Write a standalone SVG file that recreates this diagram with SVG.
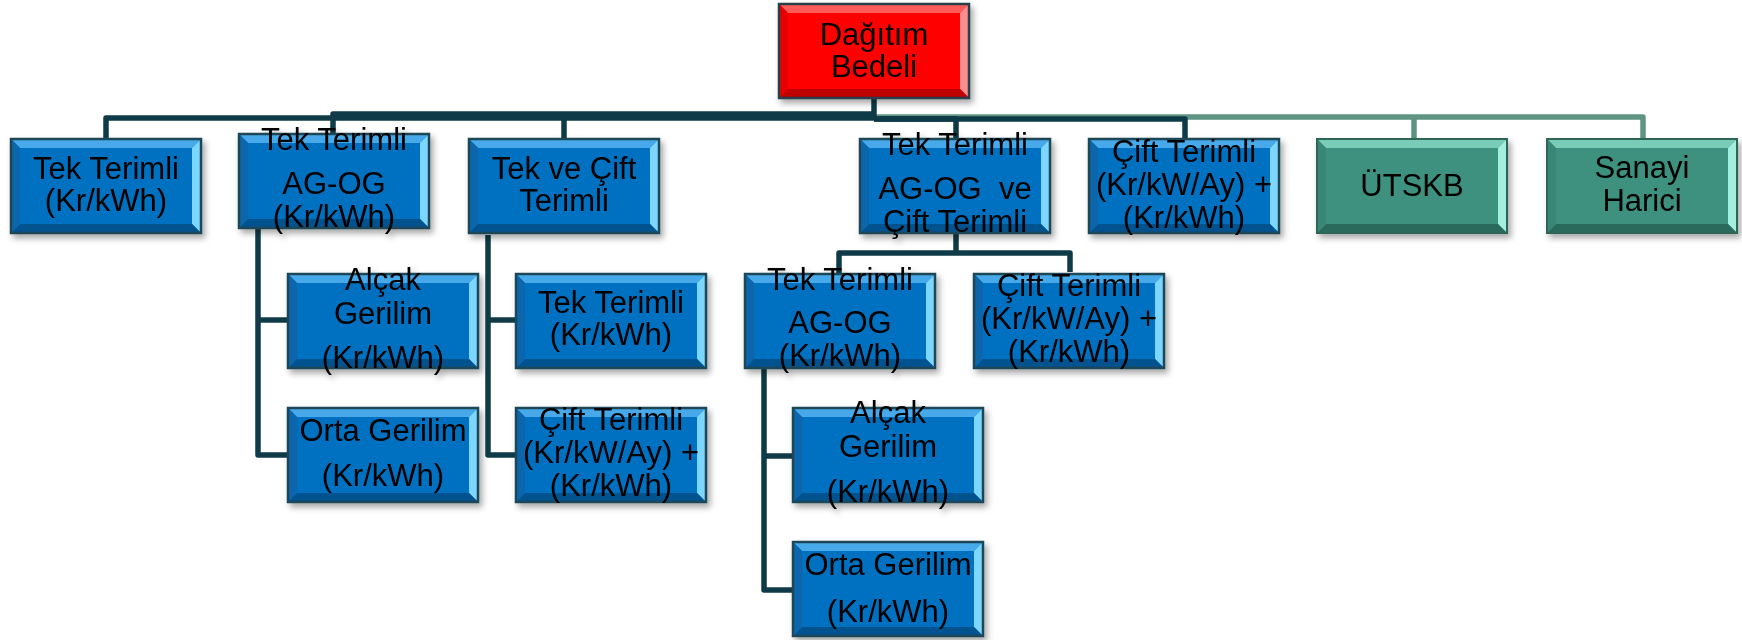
<svg xmlns="http://www.w3.org/2000/svg" xmlns:xlink="http://www.w3.org/1999/xlink" width="1742" height="640" viewBox="0 0 1742 640">
<style>
.t{font-family:"Liberation Sans",Arial,sans-serif;font-size:31px;text-anchor:middle;fill:#000}
.c{fill:none;stroke:#0E3B47;stroke-width:5.5;stroke-linejoin:round}
.g{fill:none;stroke:#5F9483;stroke-width:5.5;stroke-linejoin:round}
</style>
<defs>
<filter id="sh" x="-10%" y="-10%" width="125%" height="130%">
<feDropShadow dx="3" dy="4" stdDeviation="3" flood-color="#000" flood-opacity="0.35"/>
</filter>
<g id="bb">
<rect width="192" height="96" fill="#0070C0"/>
<polygon points="0,0 192,0 182,10 10,10" fill="#46A8EA"/>
<polygon points="192,0 192,96 182,86 182,10" fill="#7CD6FF"/>
<polygon points="0,96 192,96 182,86 10,86" fill="#00528F"/>
<polygon points="0,0 0,96 10,86 10,10" fill="#0A66AC"/>
<rect x="1" y="1" width="190" height="94" fill="none" stroke="#1D4756" stroke-width="2.5"/>
</g>
<g id="gb">
<rect width="192" height="96" fill="#3C917E"/>
<polygon points="0,0 192,0 182,10 10,10" fill="#79CDB8"/>
<polygon points="192,0 192,96 182,86 182,10" fill="#A3EEDC"/>
<polygon points="0,96 192,96 182,86 10,86" fill="#2A6B5C"/>
<polygon points="0,0 0,96 10,86 10,10" fill="#378674"/>
<rect x="1" y="1" width="190" height="94" fill="none" stroke="#2F6557" stroke-width="2"/>
</g>
<g id="rb">
<rect width="192" height="96" fill="#FF0000"/>
<polygon points="0,0 192,0 182,10 10,10" fill="#FF5A5A"/>
<polygon points="192,0 192,96 182,86 182,10" fill="#FF8C8C"/>
<polygon points="0,96 192,96 182,86 10,86" fill="#C00000"/>
<polygon points="0,0 0,96 10,86 10,10" fill="#E80000"/>
<rect x="1" y="1" width="190" height="94" fill="none" stroke="#2A3F48" stroke-width="2.5"/>
</g>
</defs>

<g id="connectors">
<path class="g" d="M874,117 H1643 V138 M1414,117 V138"/>
<path class="c" d="M874,99 V118 H106 V138"/>
<path class="c" d="M874,114 H333 V133"/>
<path class="c" d="M874,117 H564 V138"/>
<path class="c" d="M874,119 H956 V138"/>
<path class="c" d="M874,119 H1185 V138"/>
<path class="c" d="M258,228 V455 H287 M258,320 H287"/>
<path class="c" d="M488,235 V455 H515 M488,320 H515"/>
<path class="c" d="M956,234 V253 H839 V273 M956,253 H1070 V272"/>
<path class="c" d="M764,369 V590 H792 M764,456 H792"/>
</g>

<g id="root" filter="url(#sh)"><use xlink:href="#rb" x="778" y="3"/>
<text class="t" x="874" y="45">Dağıtım</text><text class="t" x="874" y="77">Bedeli</text></g>

<g id="n-tek" filter="url(#sh)"><use xlink:href="#bb" x="10" y="138"/>
<text class="t" x="106" y="179">Tek Terimli</text><text class="t" x="106" y="211">(Kr/kWh)</text></g>

<g id="n-agog" filter="url(#sh)"><use xlink:href="#bb" x="238" y="133"/>
<text class="t" x="334" y="150">Tek Terimli</text><text class="t" x="334" y="194">AG-OG</text><text class="t" x="334" y="227">(Kr/kWh)</text></g>

<g id="n-tekcift" filter="url(#sh)"><use xlink:href="#bb" x="468" y="138"/>
<text class="t" x="564" y="179">Tek ve Çift</text><text class="t" x="564" y="211">Terimli</text></g>

<g id="n-agogcift" filter="url(#sh)"><use xlink:href="#bb" x="859" y="138"/>
<text class="t" x="955" y="155">Tek Terimli</text><text class="t" x="955" y="199" xml:space="preserve">AG-OG  ve</text><text class="t" x="955" y="232">Çift Terimli</text></g>

<g id="n-cift" filter="url(#sh)"><use xlink:href="#bb" x="1088" y="138"/>
<text class="t" x="1184" y="162">Çift Terimli</text><text class="t" x="1184" y="195">(Kr/kW/Ay) +</text><text class="t" x="1184" y="228">(Kr/kWh)</text></g>

<g id="n-utskb" filter="url(#sh)"><use xlink:href="#gb" x="1316" y="138"/>
<text class="t" x="1412" y="196">ÜTSKB</text></g>

<g id="n-sanayi" filter="url(#sh)"><use xlink:href="#gb" x="1546" y="138"/>
<text class="t" x="1642" y="178">Sanayi</text><text class="t" x="1642" y="211">Harici</text></g>

<g id="n-b1" filter="url(#sh)"><use xlink:href="#bb" x="287" y="273"/>
<text class="t" x="383" y="290">Alçak</text><text class="t" x="383" y="324">Gerilim</text><text class="t" x="383" y="368">(Kr/kWh)</text></g>

<g id="n-b2" filter="url(#sh)"><use xlink:href="#bb" x="287" y="407"/>
<text class="t" x="383" y="441">Orta Gerilim</text><text class="t" x="383" y="486">(Kr/kWh)</text></g>

<g id="n-c1" filter="url(#sh)"><use xlink:href="#bb" x="515" y="273"/>
<text class="t" x="611" y="313">Tek Terimli</text><text class="t" x="611" y="345">(Kr/kWh)</text></g>

<g id="n-c2" filter="url(#sh)"><use xlink:href="#bb" x="515" y="407"/>
<text class="t" x="611" y="430">Çift Terimli</text><text class="t" x="611" y="463">(Kr/kW/Ay) +</text><text class="t" x="611" y="496">(Kr/kWh)</text></g>

<g id="n-d1" filter="url(#sh)"><use xlink:href="#bb" x="744" y="273"/>
<text class="t" x="840" y="290">Tek Terimli</text><text class="t" x="840" y="333">AG-OG</text><text class="t" x="840" y="366">(Kr/kWh)</text></g>

<g id="n-d2" filter="url(#sh)"><use xlink:href="#bb" x="973" y="273"/>
<text class="t" x="1069" y="296">Çift Terimli</text><text class="t" x="1069" y="329">(Kr/kW/Ay) +</text><text class="t" x="1069" y="362">(Kr/kWh)</text></g>

<g id="n-d1a" filter="url(#sh)"><use xlink:href="#bb" x="792" y="407"/>
<text class="t" x="888" y="423">Alçak</text><text class="t" x="888" y="457">Gerilim</text><text class="t" x="888" y="502">(Kr/kWh)</text></g>

<g id="n-d1b" filter="url(#sh)"><use xlink:href="#bb" x="792" y="541"/>
<text class="t" x="888" y="575">Orta Gerilim</text><text class="t" x="888" y="622">(Kr/kWh)</text></g>
</svg>
